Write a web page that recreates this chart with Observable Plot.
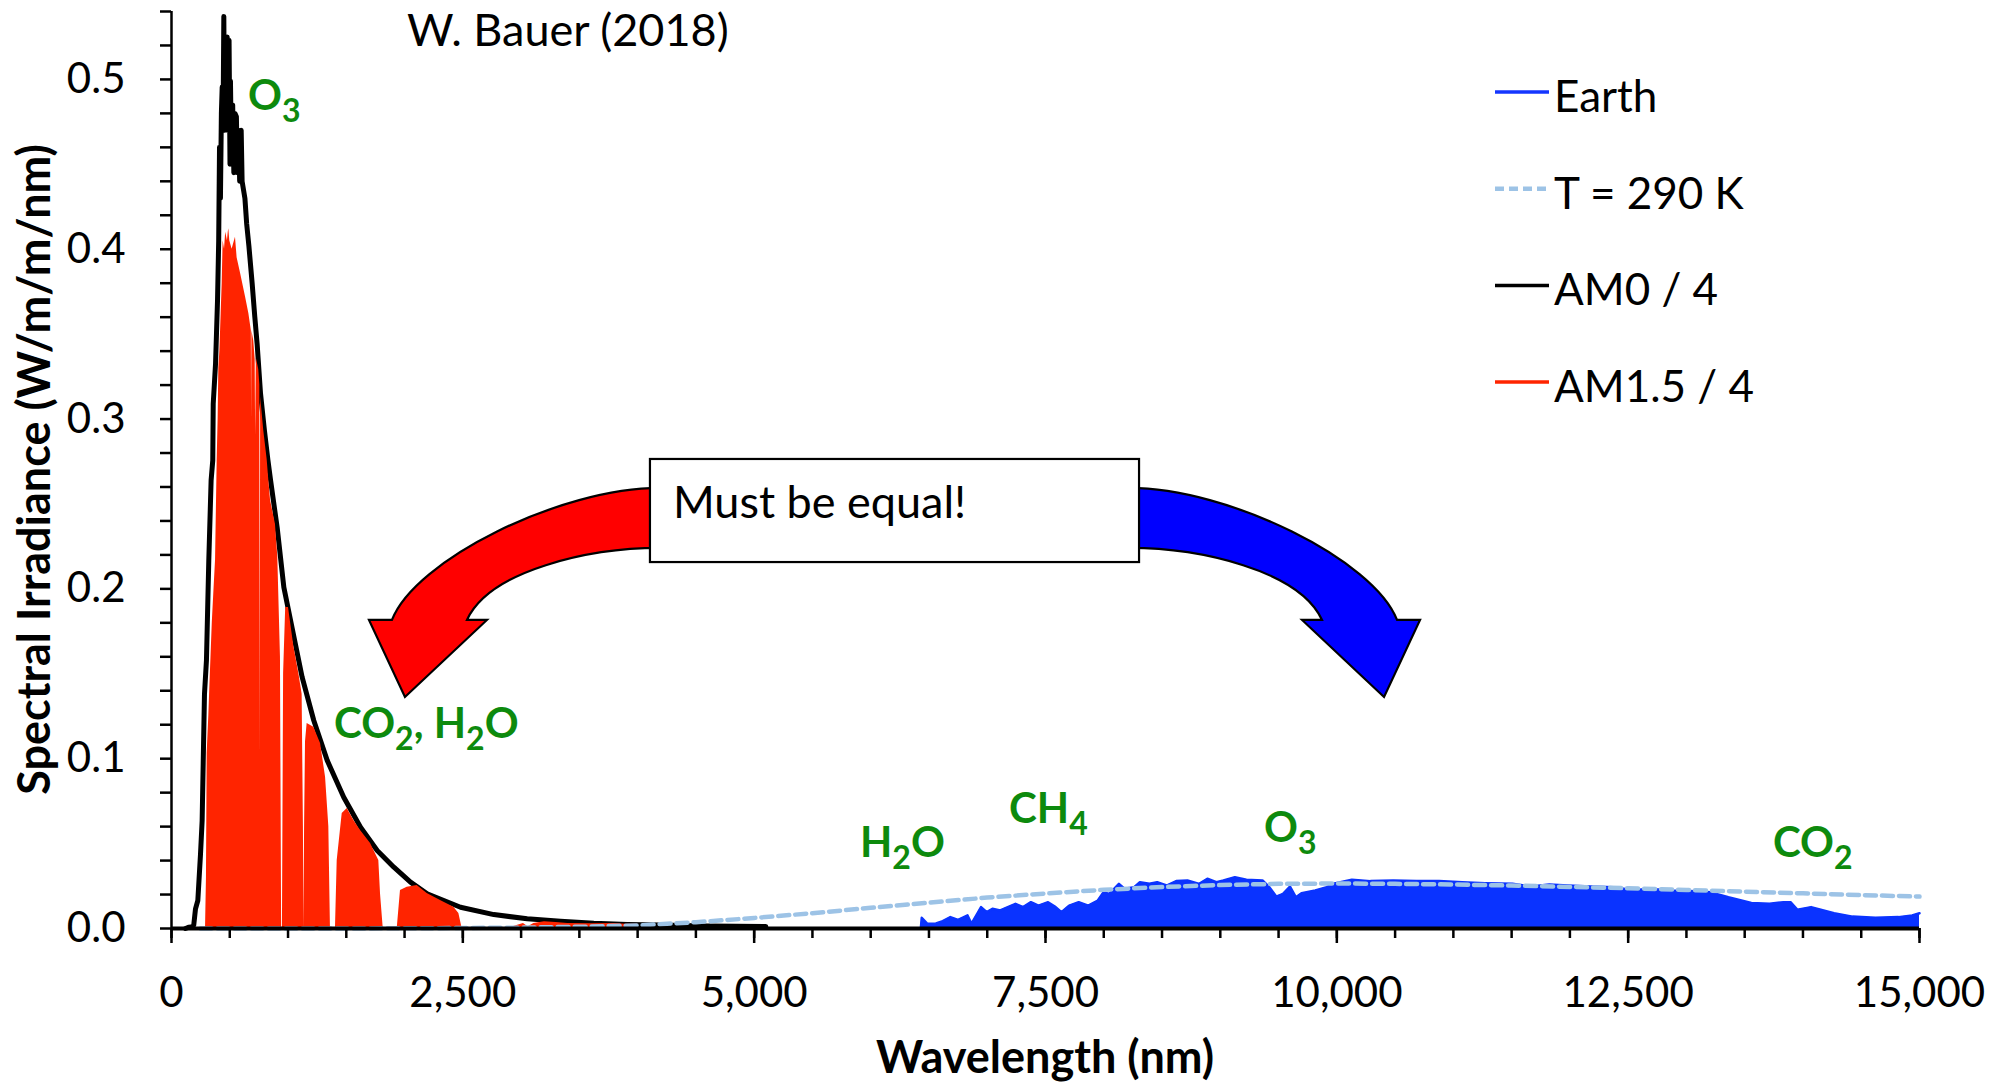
<!DOCTYPE html>
<html>
<head>
<meta charset="utf-8">
<script src="https://cdn.jsdelivr.net/npm/d3@7"></script>
<script src="https://cdn.jsdelivr.net/npm/@observablehq/plot@0.6"></script>
<style>
  html, body { margin: 0; padding: 0; background: #fff; }
  #chart { position: relative; width: 2005px; height: 1082px; overflow: hidden; }
  #chart svg { display: block; }
</style>
</head>
<body>
<div id="chart"></div>
<script>
// ---- Data: [wavelength nm, spectral irradiance W/m²/nm] ----
const am0 = [
  [120,0],[150,0.0008],[180,0.001],[191,0.002],[206,0.0116],[226,0.0165],[249,0.044],[263,0.0636],
  [283,0.138],[300,0.158],[320,0.2167],[340,0.264],[354,0.2756],[358,0.309],[378,0.3326],[395,0.37],
  [405,0.405],[412,0.46],[420,0.43],[428,0.48],[435,0.4955],[442,0.47],[449,0.537],[455,0.47],
  [462,0.52],[470,0.48],[478,0.525],[486,0.47],[494,0.523],[502,0.45],[506,0.499],[515,0.45],
  [525,0.485],[535,0.445],[545,0.48],[557,0.478],[565,0.445],[575,0.47],[585,0.44],[598,0.47],
  [606,0.44],[618,0.435],[630,0.43],[645,0.415],[664,0.402],[692,0.38],[715,0.36],[735,0.344],
  [764,0.315],[798,0.293],[827,0.276],[850,0.264],[907,0.236],[964,0.201],[1035,0.177],[1121,0.148],
  [1221,0.1225],[1336,0.099],[1478,0.0773],[1622,0.0596],[1765,0.0459],[1908,0.0361],[2051,0.0273],
  [2194,0.0204],[2337,0.0165],[2480,0.0125],[2766,0.0082],[3052,0.0057],[3338,0.0043],[3624,0.0031],
  [3910,0.0024],[4196,0.002],[4600,0.0015],[5100,0.0012]
];
const am15 = [
  [280,0],[292,0],[300,0.03],[306,0.103],[320,0.125],[329,0.142],[350,0.18],[365,0.2],[378,0.217],
  [392,0.2756],[400,0.30],[406,0.33],[415,0.34],[426,0.362],[435,0.38],[443,0.405],[455,0.40],
  [465,0.41],[480,0.405],[487,0.41],[492,0.412],[500,0.405],[520,0.40],[549,0.407],[563,0.395],
  [592,0.386],[635,0.372],[664,0.362],[685,0.352],[687,0.30],[690,0.352],[706,0.346],[718,0.335],
  [722,0.29],[728,0.336],[749,0.329],[758,0.32],[761,0.10],[765,0.313],[792,0.293],[821,0.276],
  [835,0.264],[850,0.252],[892,0.238],[912,0.219],[935,0.16],[945,0.0],[952,0.0],[962,0.15],
  [980,0.189],[1004,0.189],[1050,0.166],[1093,0.150],[1121,0.138],[1132,0.06],[1136,0.0],[1142,0.06],
  [1150,0.11],[1164,0.1207],[1221,0.1185],[1279,0.109],[1322,0.089],[1350,0.06],[1364,0],[1407,0],
  [1422,0.04],[1465,0.0677],[1508,0.0706],[1565,0.0636],[1622,0.0577],[1708,0.05],[1779,0.04],
  [1794,0.02],[1817,0],[1937,0],[1965,0.0224],[2022,0.0243],[2108,0.0253],[2194,0.0206],[2308,0.0165],
  [2423,0.0125],[2466,0.0088],[2494,0],[2600,0.0003],[2900,0.0005],[3020,0.003],[3060,0.001],
  [3110,0.003],[3200,0.004],[3300,0.0035],[3400,0.003],[3600,0.0028],[3800,0.003],[3900,0.0025],[4000,0.0025]
];
const earth = [
  [6430,0],[6438,0.0063],[6487,0.0028],[6560,0.003],[6618,0.0043],[6684,0.0067],[6750,0.0051],[6831,0.0077],
  [6865,0.0028],[6915,0.0087],[6947,0.0126],[6996,0.0096],[7045,0.0116],[7111,0.0106],[7177,0.0126],
  [7242,0.0145],[7308,0.0126],[7375,0.0155],[7440,0.0135],[7522,0.0155],[7587,0.0126],[7637,0.0096],
  [7703,0.0135],[7785,0.0155],[7867,0.0135],[7949,0.0165],[7998,0.0214],[8047,0.0204],[8130,0.0263],
  [8178,0.0234],[8261,0.0243],[8310,0.0273],[8392,0.0263],[8458,0.0273],[8539,0.0253],[8622,0.0279],
  [8718,0.0283],[8819,0.0263],[8889,0.0293],[8967,0.0273],[9027,0.0283],[9125,0.0302],[9224,0.0287],
  [9362,0.0283],[9421,0.0243],[9480,0.0188],[9538,0.0204],[9598,0.0247],[9649,0.0184],[9697,0.0208],
  [9815,0.0224],[9913,0.0243],[9971,0.0263],[10129,0.0287],[10288,0.0279],[10484,0.0283],[10681,0.0279],
  [10878,0.0279],[11075,0.0273],[11272,0.0267],[11507,0.0263],[11667,0.0247],[11824,0.0259],[11979,0.0253],
  [12177,0.0247],[12374,0.0243],[12533,0.0227],[12691,0.0232],[12889,0.0224],[13087,0.022],[13203,0.0214],
  [13360,0.0184],[13557,0.015],[13713,0.0146],[13834,0.0155],[13893,0.0155],[13953,0.011],[14070,0.0126],
  [14267,0.009],[14425,0.007],[14622,0.0063],[14820,0.0067],[14937,0.0077],[15000,0.009]
];
const bb290 = [
  [250,0],[1000,0],[2000,0.0001],[3000,0.0005],[3500,0.001],[4000,0.0018],[4500,0.0037],[5000,0.0062],
  [5500,0.009],[6000,0.0122],[6500,0.0152],[7000,0.0182],[7500,0.0206],[8000,0.0228],[8500,0.0244],
  [9000,0.0256],[9500,0.0263],[10000,0.0265],[10500,0.0263],[11000,0.0259],[11500,0.0253],[12000,0.0245],
  [12500,0.0237],[13000,0.0227],[13500,0.0217],[14000,0.0207],[14500,0.0197],[15000,0.0188]
];

// ---- Axis ticks and texts ----
const xMajorTicks = [0, 2500, 5000, 7500, 10000, 12500, 15000];
const xMinorTicks = d3.range(0, 15001, 500);
const yMajorTicks = [0, 0.1, 0.2, 0.3, 0.4, 0.5];
const yMinorTicks = d3.range(0, 28).map(i => i * 0.02);

const legendItems = [
  {label: "Earth", color: "#1436ff", dash: null},
  {label: "T = 290 K", color: "#9dc3e6", dash: "9,5"},
  {label: "AM0 / 4", color: "#000000", dash: null},
  {label: "AM1.5 / 4", color: "#ff2400", dash: null}
];
// Molecule labels: text with _n as subscript, anchored at [wavelength, irradiance] of the baseline start
const molecules = [
  {text: "O_3", x: 661, y: 0.4817},
  {text: "CO_2, H_2O", x: 1399, y: 0.1119},
  {text: "H_2O", x: 5912, y: 0.0418},
  {text: "CH_4", x: 7191, y: 0.0618},
  {text: "O_3", x: 9379, y: 0.0506},
  {text: "CO_2", x: 13747, y: 0.0418}
];
const callout = {text: "Must be equal!", x1: 4110, x2: 8307, y1: 0.2762, y2: 0.2155};
const credit = {text: "W. Bauer (2018)", x: 2025};
const xTitle = "Wavelength (nm)";
const yTitle = "Spectral Irradiance (W/m/m/nm)";

const FONT = "Lato, 'Open Sans', 'DejaVu Sans', sans-serif";
const GREEN = "#0d8a0d";

function annotations(index, scales, values, dims) {
  const {x, y} = scales;
  const g = d3.create("svg:g").attr("font-family", FONT).attr("text-anchor", "start");
  const W = dims.width, H = dims.height;
  const fl = dims.marginLeft, fr = W - dims.marginRight, ft = dims.marginTop, fb = H - dims.marginBottom;

  // credit line at top
  g.append("text").attr("x", x(credit.x)).attr("y", 46).attr("font-size", 45).attr("fill", "black").text(credit.text);

  // axis titles
  g.append("text").attr("x", (fl + fr) / 2).attr("y", 1073).attr("text-anchor", "middle")
    .attr("font-size", 45).attr("font-weight", "bold").attr("fill", "black").text(xTitle);
  g.append("text").attr("transform", `translate(50,${(ft + fb) / 2}) rotate(-90)`).attr("text-anchor", "middle")
    .attr("font-size", 45).attr("font-weight", "bold").attr("fill", "black").text(yTitle);

  // molecule labels
  for (const m of molecules) {
    const t = g.append("text").attr("x", x(m.x)).attr("y", y(m.y)).attr("fill", GREEN)
      .attr("font-weight", "bold").attr("font-size", 42).attr("text-anchor", "start");
    const parts = m.text.split(/_(\d)/);
    let shifted = false;
    parts.forEach((p, i) => {
      if (p === "") return;
      const sub = i % 2 === 1;
      const ts = t.append("tspan").text(p);
      if (sub) { ts.attr("font-size", 32).attr("dy", 12); shifted = true; }
      else if (shifted) { ts.attr("dy", -12); shifted = false; }
    });
  }

  // callout arrows + box
  const L = x(callout.x1), R = x(callout.x2), T = y(callout.y1), B = y(callout.y2);
  const arrowPath = (X0, s) => {
    const px = d => X0 + s * d;
    return `M${px(-10)},${T + 29} C${px(90)},${T + 29} ${px(235)},${T + 101} ${px(258)},${T + 161}` +
      ` L${px(281)},${T + 161} L${px(245)},${T + 238} L${px(163)},${T + 161} L${px(183)},${T + 161}` +
      ` C${px(160)},${T + 111} ${px(60)},${T + 89} ${px(-10)},${T + 89} Z`;
  };
  g.append("path").attr("d", arrowPath(L, -1)).attr("fill", "#ff0000").attr("stroke", "black").attr("stroke-width", 2.2);
  g.append("path").attr("d", arrowPath(R, 1)).attr("fill", "#0000ff").attr("stroke", "black").attr("stroke-width", 2.2);
  g.append("rect").attr("x", L).attr("y", T).attr("width", R - L).attr("height", B - T)
    .attr("fill", "white").attr("stroke", "black").attr("stroke-width", 2.2);
  g.append("text").attr("x", L + 23).attr("y", T + 59).attr("font-size", 45).attr("fill", "black")
    .attr("text-anchor", "start").text(callout.text);

  // legend
  legendItems.forEach((d, i) => {
    const yy = ft + 81 + i * 96.7;
    const x0 = fr - 424, x1 = fr - 370;
    g.append("line").attr("x1", x0).attr("x2", x1).attr("y1", yy).attr("y2", yy)
      .attr("stroke", d.color).attr("stroke-width", d.dash ? 4.5 : 3.5)
      .attr("stroke-dasharray", d.dash);
    g.append("text").attr("x", x1 + 5).attr("y", yy + 20).attr("font-size", 44).attr("fill", "black")
      .attr("text-anchor", "start").text(d.label);
  });
  return g.node();
}

const fx = d => d[0], fy = d => d[1];
const plot = Plot.plot({
  width: 2005,
  height: 1082,
  marginLeft: 171,
  marginRight: 86,
  marginTop: 11,
  marginBottom: 154,
  style: {fontFamily: FONT, color: "black", background: "white"},
  x: {domain: [0, 15000]},
  y: {domain: [0, 0.54]},
  marks: [
    Plot.line(am0, {x: fx, y: fy, stroke: "black", strokeWidth: 5, strokeLinejoin: "round"}),
    Plot.areaY(am15, {x: fx, y: fy, fill: "#ff2400"}),
    Plot.areaY(earth, {x: fx, y: fy, fill: "#0a33ff"}),
    Plot.line(earth, {x: fx, y: fy, stroke: "#0a33ff", strokeWidth: 2.5}),
    Plot.line(bb290, {x: fx, y: fy, stroke: "#9dc3e6", strokeWidth: 4.5, strokeDasharray: "11,6"}),
    Plot.axisX({ticks: xMinorTicks, tickSize: 10, tickFormat: () => "", stroke: "black", strokeWidth: 2.5, label: null}),
    Plot.axisX({ticks: xMajorTicks, tickSize: 15, tickPadding: 34, tickFormat: d3.format(","), fontSize: 42,
      stroke: "black", strokeWidth: 2.5, fill: "black", label: null}),
    Plot.axisY({ticks: yMinorTicks, tickSize: 11, tickFormat: () => "", stroke: "black", strokeWidth: 2.5, label: null}),
    Plot.axisY({ticks: yMajorTicks, tickSize: 0, tickPadding: 46, tickFormat: d3.format(".1f"), fontSize: 42,
      fill: "black", label: null}),
    Plot.ruleX([0], {stroke: "black", strokeWidth: 2.5}),
    Plot.ruleY([0], {stroke: "black", strokeWidth: 4}),
    annotations
  ]
});
document.getElementById("chart").appendChild(plot);
</script>
</body>
</html>
